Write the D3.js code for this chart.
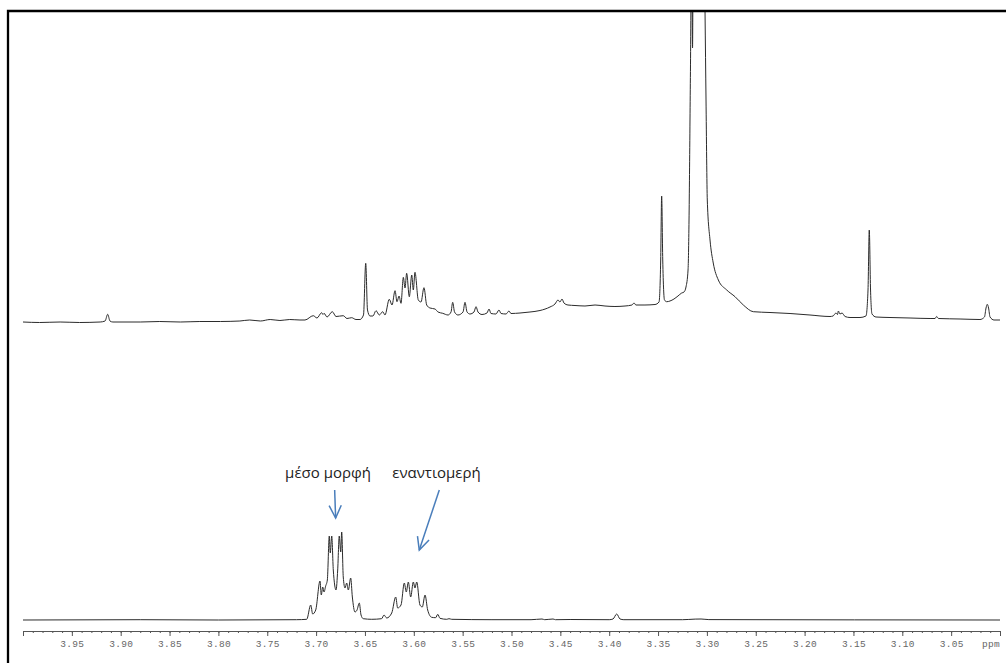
<!DOCTYPE html>
<html>
<head>
<meta charset="utf-8">
<script src="https://cdn.jsdelivr.net/npm/d3@7"></script>
<style>
    body { margin: 0; background: #fff; }
    svg { display: block; }
</style>
</head>
<body>
<script>
// upper spectrum: [ppm, intensity]
const topSpectrum = [
    [4.000, 0], [3.983, -0.5], [3.962, 0], [3.942, -0.5], [3.921, 0], [3.916, 1], [3.9133, 7.7], [3.911, 1],
    [3.908, 0], [3.880, 0], [3.860, 0.5], [3.839, 0], [3.819, 0.5], [3.798, 0.5], [3.778, 1], [3.768, 2],
    [3.757, 1], [3.747, 2.5], [3.737, 1.5], [3.727, 2.5], [3.7165, 2], [3.7114, 2], [3.7029, 6.3], [3.6991, 4],
    [3.6943, 9.3], [3.6929, 7.5], [3.6919, 8.7], [3.6888, 5], [3.6834, 10.3], [3.6796, 5.5], [3.6722, 6.3],
    [3.6684, 3.5], [3.6636, 4.3], [3.6592, 2.5], [3.6551, 2.5], [3.6515, 7], [3.6492, 58.7], [3.6474, 12],
    [3.6448, 6], [3.6418, 6], [3.6387, 11.3], [3.6353, 7], [3.6318, 10.3], [3.6295, 7], [3.6251, 22.7],
    [3.6223, 17], [3.6192, 31.3], [3.6172, 20.3], [3.6151, 26], [3.6131, 18.7], [3.6107, 44.7], [3.6090, 34],
    [3.6073, 48.7], [3.6046, 25.3], [3.6021, 47], [3.6005, 32], [3.5988, 49.7], [3.5954, 22], [3.5926, 20],
    [3.5896, 34.3], [3.5868, 17], [3.5834, 14], [3.5783, 13], [3.5752, 10], [3.5704, 8.7], [3.5650, 7],
    [3.5619, 10], [3.5602, 19.7], [3.5583, 10], [3.5548, 7], [3.5496, 10], [3.5476, 19.7], [3.5455, 10],
    [3.5425, 8], [3.5384, 10], [3.5363, 15.3], [3.5343, 10], [3.5302, 7.5], [3.5251, 9], [3.5230, 13],
    [3.5210, 8.5], [3.5159, 8], [3.5128, 12], [3.5107, 8.5], [3.5056, 8], [3.5026, 11], [3.5005, 8.5],
    [3.4913, 9], [3.4811, 10], [3.4708, 11.5], [3.4606, 15], [3.4555, 18], [3.4524, 22], [3.4504, 20],
    [3.4483, 23], [3.4463, 19], [3.4422, 17], [3.4350, 16.5], [3.4248, 16], [3.4145, 17], [3.4043, 16],
    [3.3941, 15.5], [3.3838, 16], [3.3767, 17], [3.3746, 19], [3.3726, 17], [3.3634, 17], [3.3531, 17.5],
    [3.3490, 20], [3.3473, 62], [3.3463, 126], [3.3452, 62], [3.3434, 22], [3.3411, 20.3], [3.3378, 21],
    [3.3337, 23], [3.3296, 26], [3.3258, 29], [3.3234, 30], [3.3214, 35], [3.3193, 52], [3.3183, 102],
    [3.3173, 202], [3.3164, 310], [3.3158, 420], [3.3147, 274], [3.3139, 420], [3.3112, 500], [3.3071, 520],
    [3.3030, 420], [3.3019, 310], [3.3009, 222], [3.2996, 122], [3.2968, 82], [3.2935, 59], [3.2883, 42],
    [3.2797, 32], [3.2712, 25.3], [3.2627, 17], [3.2525, 10.3], [3.2354, 9.5], [3.2149, 8.5], [3.1945, 7],
    [3.1740, 5.5], [3.1709, 6], [3.1679, 9], [3.1663, 7.5], [3.1655, 11], [3.1638, 8], [3.1617, 9],
    [3.1586, 5.5], [3.1535, 4.5], [3.1433, 4.5], [3.1372, 6], [3.1351, 32], [3.1338, 92], [3.1325, 32],
    [3.1310, 8], [3.1269, 5], [3.1126, 4.5], [3.0921, 4], [3.0716, 3.5], [3.0665, 3.5], [3.0648, 5.5],
    [3.0630, 3.5], [3.0409, 3], [3.0205, 2.5], [3.0159, 5], [3.0143, 14], [3.0130, 17.7], [3.0117, 14],
    [3.0102, 5], [3.0061, 2], [3.0000, 2]
];

// lower spectrum: [ppm, intensity]
const bottomSpectrum = [
    [4.000, 0], [3.880, 0.3], [3.800, 0], [3.720, 0.3], [3.7096, 0.7], [3.7055, 15], [3.7035, 6],
    [3.7004, 10], [3.6960, 39], [3.6947, 25], [3.6932, 33], [3.6919, 28], [3.6902, 34], [3.6885, 40],
    [3.6865, 84], [3.6855, 67], [3.6840, 84], [3.6824, 50], [3.6796, 30], [3.6779, 50], [3.6763, 84],
    [3.6748, 68], [3.6738, 88], [3.6722, 43], [3.6704, 32], [3.6687, 37], [3.6670, 30], [3.6646, 42],
    [3.6629, 23], [3.6602, 8], [3.6581, 10], [3.6558, 17], [3.6540, 5], [3.6517, 1.3], [3.6431, 0.7],
    [3.6329, 1.3], [3.6305, 5], [3.6277, 2], [3.6226, 7], [3.6185, 23], [3.6165, 12], [3.6131, 15],
    [3.6097, 37], [3.6077, 28], [3.6056, 38], [3.6032, 23], [3.6005, 38], [3.5988, 32], [3.5970, 38],
    [3.5937, 15], [3.5913, 13], [3.5885, 25], [3.5858, 10], [3.5817, 2.7], [3.5776, 2.3], [3.5755, 5.7],
    [3.5732, 1.7], [3.5663, 0.7], [3.5640, 1.3], [3.5612, 0.7], [3.520, 0.3], [3.480, 0.3], [3.4688, 1],
    [3.466, 0.3], [3.4575, 1], [3.455, 0.3], [3.440, 0.5], [3.400, 0.3], [3.3961, 1], [3.3923, 6],
    [3.3889, 1], [3.385, 0.3], [3.325, 0.3], [3.312, 0.9], [3.306, 1], [3.298, 0.4], [3.000, 0]
];

const majorTicks = [4.00, 3.95, 3.90, 3.85, 3.80, 3.75, 3.70, 3.65, 3.60, 3.55, 3.50,
                    3.45, 3.40, 3.35, 3.30, 3.25, 3.20, 3.15, 3.10, 3.05, 3.00];
const tickLabels = ['', '3.95', '3.90', '3.85', '3.80', '3.75', '3.70', '3.65', '3.60', '3.55', '3.50',
                    '3.45', '3.40', '3.35', '3.30', '3.25', '3.20', '3.15', '3.10', '3.05', ''];

// annotations on the lower spectrum: label, label position, arrow from -> to (ppm, intensity)
const noteLabels = ['μέσο μορφή', 'εναντιομερή'];
const noteLabelPos = [[3.6878, 142], [3.5768, 142]];
const noteArrows = [[[3.6810, 130], [3.6800, 102]], [[3.5739, 130], [3.5944, 70]]];

const width = 1006, height = 663;

const svg = d3.select('body').append('svg')
    .attr('width', width)
    .attr('height', height)
    .style('background', '#fff');

const x = d3.scaleLinear().domain([4.0, 3.0]).range([23, 1000]);
const yTop = d3.scaleLinear().domain([0, 311]).range([322, 11]);
const yBot = d3.scaleLinear().domain([0, 100]).range([620, 520]);

svg.append('defs').append('clipPath').attr('id', 'plotClip')
    .append('rect').attr('x', 9).attr('y', 11.5).attr('width', width).attr('height', height);

const plot = svg.append('g').attr('clip-path', 'url(#plotClip)');

const lineTop = d3.line().x(d => x(d[0])).y(d => yTop(d[1])).curve(d3.curveMonotoneX);
const lineBot = d3.line().x(d => x(d[0])).y(d => yBot(d[1])).curve(d3.curveMonotoneX);

// monotoneX wants increasing x, so sort by pixel position
const byX = (a, b) => x(a[0]) - x(b[0]);

plot.append('path')
    .datum(topSpectrum.slice().sort(byX))
    .attr('d', lineTop)
    .attr('fill', 'none')
    .attr('stroke', '#2b2b2b')
    .attr('stroke-width', 1);

plot.append('path')
    .datum(bottomSpectrum.slice().sort(byX))
    .attr('d', lineBot)
    .attr('fill', 'none')
    .attr('stroke', '#2b2b2b')
    .attr('stroke-width', 1);

// ppm axis
const axisG = svg.append('g').attr('transform', 'translate(0,631)');
axisG.call(d3.axisBottom(x)
    .tickValues(d3.range(0, 101).map(i => 4 - i / 100))
    .tickSize(2)
    .tickSizeOuter(0)
    .tickFormat(''));
const majorG = svg.append('g').attr('transform', 'translate(0,631)');
majorG.call(d3.axisBottom(x)
    .tickValues(majorTicks)
    .tickSize(5)
    .tickSizeOuter(0)
    .tickPadding(4)
    .tickFormat((d, i) => tickLabels[i]));
majorG.select('.domain').remove();
svg.selectAll('.domain, .tick line').attr('stroke', '#555');
majorG.selectAll('.tick text')
    .attr('font-family', '"Liberation Mono", "DejaVu Sans Mono", monospace')
    .attr('font-size', 9.5)
    .attr('letter-spacing', 0.3)
    .attr('fill', '#666');

svg.append('text')
    .attr('x', x(3.0))
    .attr('y', 647)
    .attr('text-anchor', 'end')
    .attr('font-family', '"Liberation Mono", "DejaVu Sans Mono", monospace')
    .attr('font-size', 9.5)
    .attr('letter-spacing', 0.3)
    .attr('fill', '#666')
    .text('ppm');

// annotations
svg.selectAll('.note')
    .data(noteLabels)
    .enter().append('text')
    .attr('class', 'note')
    .attr('x', (d, i) => x(noteLabelPos[i][0]))
    .attr('y', (d, i) => yBot(noteLabelPos[i][1]))
    .attr('text-anchor', 'middle')
    .attr('font-family', '"Open Sans", "Noto Sans", sans-serif')
    .attr('font-size', 15)
    .attr('fill', '#222')
    .text(d => d);

const arrowColor = '#4a7ebb';
noteArrows.forEach(a => {
    const x1 = x(a[0][0]), y1 = yBot(a[0][1]);
    const x2 = x(a[1][0]), y2 = yBot(a[1][1]);
    const ang = Math.atan2(y2 - y1, x2 - x1);
    const head = 14, spread = 0.45;
    svg.append('line')
        .attr('x1', x1).attr('y1', y1).attr('x2', x2).attr('y2', y2)
        .attr('stroke', arrowColor).attr('stroke-width', 1.5);
    svg.append('path')
        .attr('d', `M${x2 - head * Math.cos(ang - spread)},${y2 - head * Math.sin(ang - spread)}` +
                   `L${x2},${y2}` +
                   `L${x2 - head * Math.cos(ang + spread)},${y2 - head * Math.sin(ang + spread)}`)
        .attr('fill', 'none')
        .attr('stroke', arrowColor)
        .attr('stroke-width', 1.5);
});

// frame (left and top edges of the pasted picture)
svg.append('path')
    .attr('d', `M8,${height} V11 H${width}`)
    .attr('fill', 'none')
    .attr('stroke', '#000')
    .attr('stroke-width', 2.3);
</script>
</body>
</html>
